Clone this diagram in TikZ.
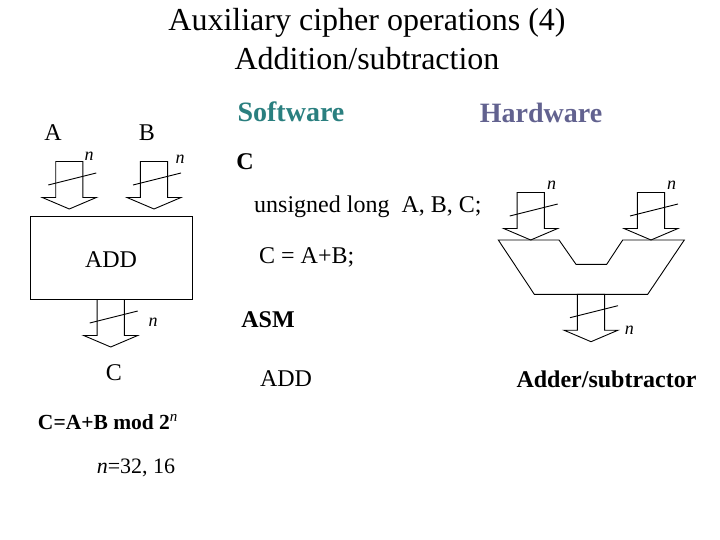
\documentclass[tikz,border=0pt]{standalone}
\usepackage{fontspec}
\setmainfont{Liberation Serif}
\definecolor{swcol}{HTML}{2A7F7F}
\definecolor{hwcol}{HTML}{62628F}
\tikzset{
  busline/.style={draw=black, line width=0.9pt, line join=miter},
  bus/.pic={
    \draw[busline] (-13.6,-47.5) -- (-13.6,-11.5) -- (-27,-11.5) -- (0,0)
      -- (27,-11.5) -- (13.6,-11.5) -- (13.6,-47.5) -- cycle;
    \draw[line width=0.9pt] (-21,-24) -- (27,-36);
  },
  txt/.style={inner sep=0pt, font=\fontsize{24}{28}\selectfont},
  btxt/.style={inner sep=0pt, font=\fontsize{24}{28}\selectfont\bfseries},
  ntxt/.style={inner sep=0pt, font=\fontsize{18}{20}\selectfont\itshape},
}
\begin{document}
\begin{tikzpicture}[x=1pt,y=-1pt]
\useasboundingbox (0,0) rectangle (720,540);
% title
\node[inner sep=0pt, font=\fontsize{32}{36}\selectfont] (t1) at (367,23) {Auxiliary cipher operations (4)};
\node[inner sep=0pt, font=\fontsize{32}{36}\selectfont] (t2) at (367,59) {Addition/subtraction};
% left diagram
\node[txt] (la) at (53,133) {A};
\node[txt] (lb) at (147,133) {B};
\pic (ina) at (69.3,209) {bus};
\pic (inb) at (154,209) {bus};
\node[ntxt] (na) at (89,156) {n};
\node[ntxt] (nb) at (180,159) {n};
\node[draw, line width=0.9pt, minimum width=162pt, minimum height=82.6pt, inner sep=0pt] (addbox) at (111.5,258) {};
\node[txt] (addl) at (111,260) {ADD};
\pic (outc) at (110.7,347) {bus};
\node[ntxt] (nc) at (153,322) {n};
\node[txt] (lc) at (114,373) {C};
\node[inner sep=0pt, font=\fontsize{21.5}{24}\selectfont\bfseries] (mod) at (108,422) {C=A+B mod 2\textsuperscript{\textnormal{\textit{n}}}};
\node[inner sep=0pt, font=\fontsize{22}{24}\selectfont] (nval) at (136,468) {\textit{n}=32, 16};
% software
\node[inner sep=0pt, font=\fontsize{28}{32}\selectfont\bfseries, text=swcol] (sw) at (291,112) {Software};
\node[inner sep=0pt, font=\fontsize{28}{32}\selectfont\bfseries, text=hwcol] (hw) at (541,113) {Hardware};
\node[btxt] (cl) at (245,162) {C};
\node[txt, anchor=west] (decl) at (254,207) {unsigned long\ \ A, B, C;};
\node[txt, anchor=west] (stmt) at (259,257) {C = A+B;};
\node[btxt] (asm) at (268,320) {ASM};
\node[txt] (asmadd) at (286,379) {ADD};
% hardware
\pic (hina) at (530.7,240) {bus};
\pic (hinb) at (651,240) {bus};
\node[ntxt] (hna) at (551.7,185) {n};
\node[ntxt] (hnb) at (671.7,185) {n};
\draw[line width=0.9pt, line join=miter] (498.3,240) -- (559,240) -- (576,264.3) -- (606.7,264.3) -- (622.7,240) -- (684.3,240)
  -- (647.7,294.3) -- (534.3,294.3) -- cycle;
\pic (hout) at (591,341.7) {bus};
\node[ntxt] (hnc) at (629.3,330) {n};
\node[btxt] (hwl) at (606.5,379) {Adder/subtractor};
\end{tikzpicture}
\end{document}
